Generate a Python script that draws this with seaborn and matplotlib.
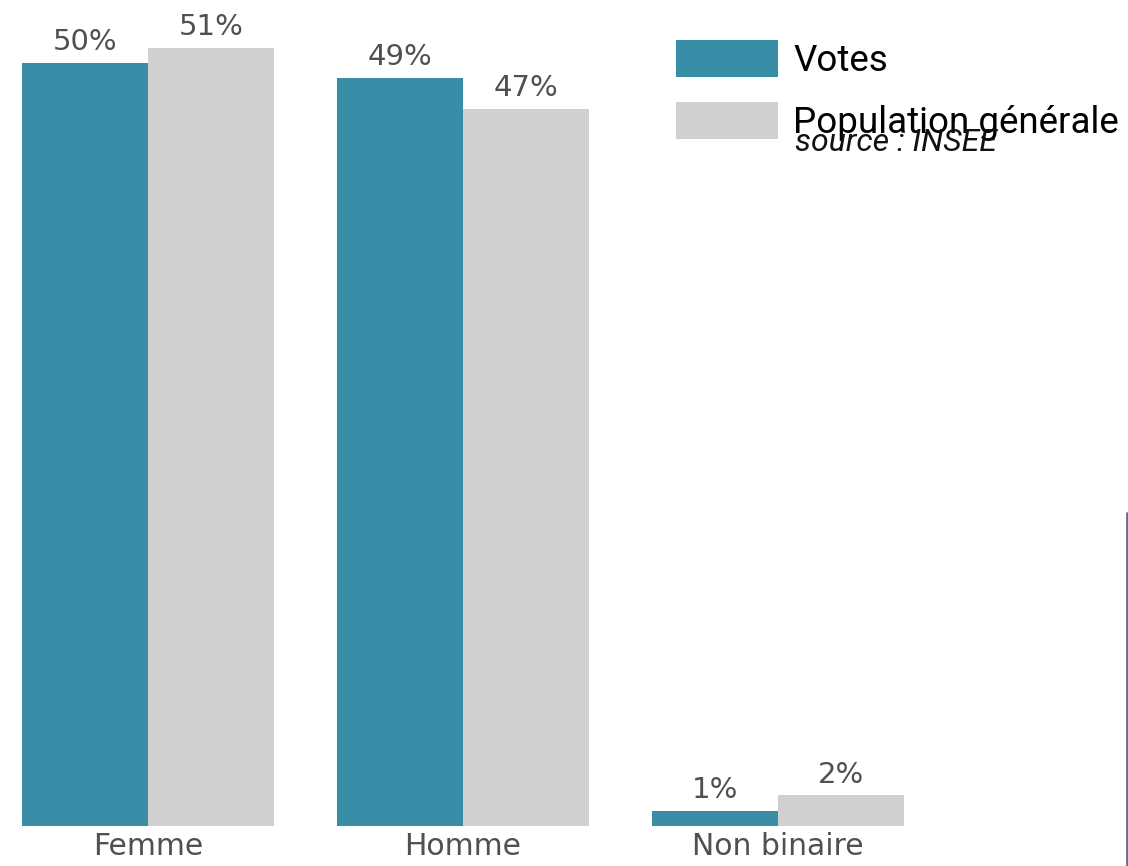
import matplotlib
matplotlib.use("Agg")
import matplotlib.pyplot as plt
import seaborn as sns
import pandas as pd
from matplotlib.lines import Line2D

categories = ["Femme", "Homme", "Non binaire"]
votes = [50, 49, 1]
population = [51, 47, 2]
series_names = ["Votes", "Population générale"]
colors = ["#378ea6", "#d0d0d0"]

df = pd.DataFrame({
    "cat": categories * 2,
    "val": votes + population,
    "serie": [series_names[0]] * 3 + [series_names[1]] * 3,
})

sns.set_style("white")
plt.rcParams["font.family"] = ["DejaVu Sans"]

W, H = 1128, 866
fig = plt.figure(figsize=(W / 100, H / 100), dpi=100)
ax = fig.add_axes([0, 40 / H, 1, 826 / H])

sns.barplot(data=df, x="cat", y="val", hue="serie", palette=colors,
            width=0.8, dodge=True, saturation=1, linewidth=0, ax=ax)

ax.set_xlim(-0.4 - 22 / 315, -0.4 - 22 / 315 + W / 315)
ax.set_ylim(0, 826 / 15.26)

for cont in ax.containers:
    ax.bar_label(cont, labels=[f"{v:g}%" for v in cont.datavalues],
                 padding=5, fontsize=21, color="#505050")

for s in ax.spines.values():
    s.set_visible(False)
ax.set_yticks([])
ax.set_xlabel("")
ax.set_ylabel("")
ax.tick_params(axis="x", length=0, pad=4, labelsize=21.5, labelcolor="#505050")

sns.move_legend(ax, loc="upper left", bbox_to_anchor=(676 / W, 1 - 40 / H),
                bbox_transform=fig.transFigure, frameon=False, title=None,
                handlelength=2.77, handleheight=1.17,
                handletextpad=0.42, labelspacing=0.62,
                borderpad=0, borderaxespad=0,
                prop={"family": "Roboto", "size": 26.5}, labelcolor="black")

fig.text(795 / W, 1 - 151 / H, "source : INSEE", fontstyle="italic",
         family="Roboto", fontsize=23, color="#111111", va="baseline")

fig.add_artist(Line2D([1126.5 / W, 1126.5 / W], [0, 1 - 513 / H],
                      transform=fig.transFigure, color="#6b6b8c", lw=2))

fig.savefig("out.png", dpi=100)
